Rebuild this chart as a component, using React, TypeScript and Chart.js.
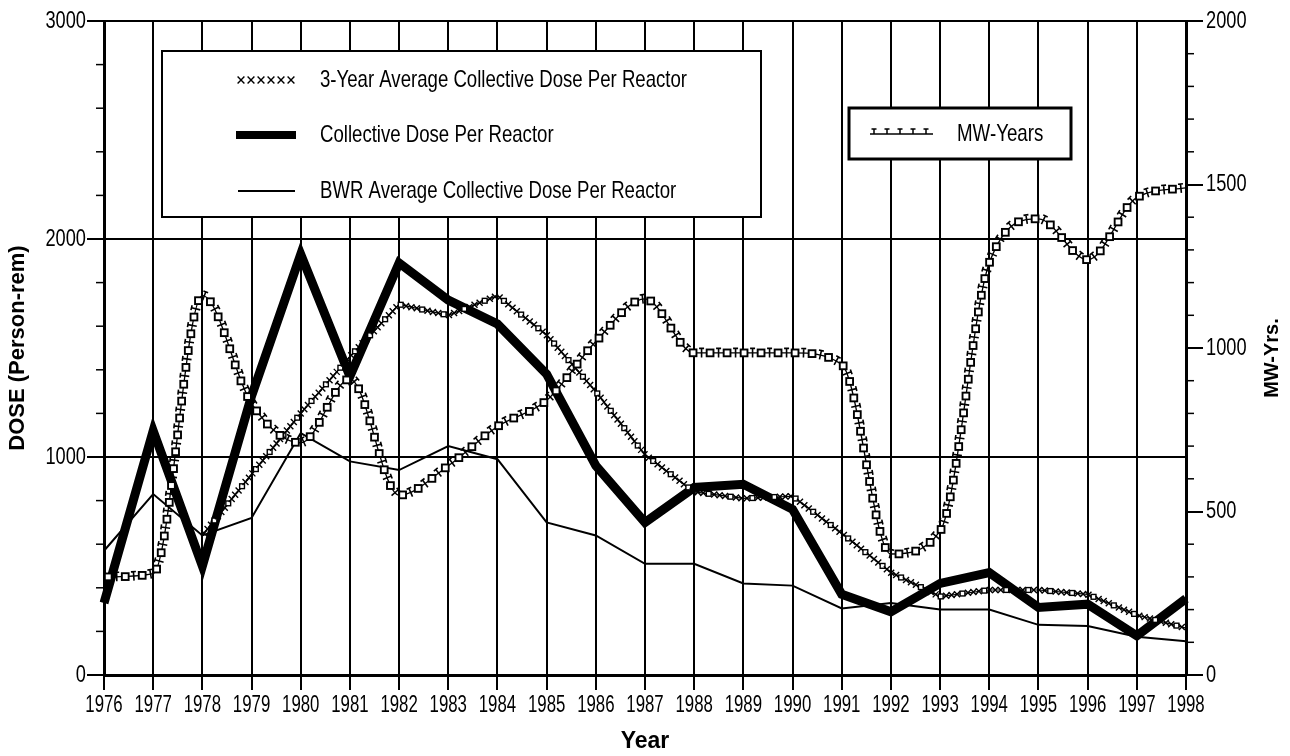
import React, { useEffect, useRef } from "react";
import { Chart, registerables } from "chart.js";

Chart.register(...registerables);

const years = ["1976","1977","1978","1979","1980","1981","1982","1983","1984","1985","1986","1987","1988","1989","1990","1991","1992","1993","1994","1995","1996","1997","1998"];
const threeYearAvg = [null, null, 640, 920, 1200, 1460, 1700, 1650, 1740, 1560, 1300, 1010, 840, 810, 820, 650, 470, 360, 390, 390, 370, 275, 215];
const collectiveDose = [330, 1120, 500, 1280, 1930, 1370, 1890, 1720, 1610, 1380, 960, 700, 860, 875, 760, 370, 290, 420, 470, 310, 325, 180, 350];
const bwrAverage = [570, 830, 640, 720, 1110, 980, 940, 1050, 990, 700, 640, 510, 510, 420, 410, 305, 330, 300, 300, 230, 225, 175, 155];
const mwYears = [300, 310, 1160, 830, 710, 905, 550, 640, 760, 840, 1020, 1150, 985, 985, 985, 950, 370, 440, 1260, 1395, 1270, 1460, 1490];

const leftTicks = [0, 1000, 2000, 3000];
const rightTicks = [0, 500, 1000, 1500, 2000];

const legendLabels = [
  "3-Year Average Collective Dose Per Reactor",
  "Collective Dose Per Reactor",
  "BWR Average Collective Dose Per Reactor",
];
const mwLegendLabel = "MW-Years";
const leftTitle = "DOSE (Person-rem)";
const rightTitle = "MW-Yrs.";
const xTitle = "Year";

const SANS = "'Liberation Sans', Arial, Helvetica, sans-serif";

type P = { x: number; y: number };

function buildRuns(pts: any[]): P[][] {
  const runs: P[][] = [];
  let cur: P[] = [];
  for (let i = 0; i < pts.length; i++) {
    const p = pts[i];
    if (!p || p.skip || isNaN(p.y)) {
      if (cur.length > 1) runs.push(cur);
      cur = [];
      continue;
    }
    if (cur.length === 0) {
      cur.push({ x: p.x, y: p.y });
      continue;
    }
    const q = pts[i - 1];
    if (q && q.cp2x !== undefined && p.cp1x !== undefined) {
      const x0 = q.x, y0 = q.y, x1 = q.cp2x, y1 = q.cp2y, x2 = p.cp1x, y2 = p.cp1y, x3 = p.x, y3 = p.y;
      const N = 40;
      for (let k = 1; k <= N; k++) {
        const t = k / N, u = 1 - t;
        cur.push({
          x: u * u * u * x0 + 3 * u * u * t * x1 + 3 * u * t * t * x2 + t * t * t * x3,
          y: u * u * u * y0 + 3 * u * u * t * y1 + 3 * u * t * t * y2 + t * t * t * y3,
        });
      }
    } else {
      cur.push({ x: p.x, y: p.y });
    }
  }
  if (cur.length > 1) runs.push(cur);
  return runs;
}

function walk(run: P[], step: number, cb: (x: number, y: number, ang: number, n: number) => void) {
  let remaining = step / 2;
  let n = 0;
  for (let i = 1; i < run.length; i++) {
    const a = run[i - 1], b = run[i];
    const dx = b.x - a.x, dy = b.y - a.y;
    const len = Math.hypot(dx, dy);
    if (len === 0) continue;
    let pos = 0;
    while (pos + remaining <= len) {
      pos += remaining;
      const t = pos / len;
      cb(a.x + dx * t, a.y + dy * t, Math.atan2(dy, dx), n++);
      remaining = step;
    }
    remaining -= len - pos;
  }
}

function drawX(ctx: CanvasRenderingContext2D, x: number, y: number, s: number) {
  ctx.beginPath();
  ctx.moveTo(x - s, y - s);
  ctx.lineTo(x + s, y + s);
  ctx.moveTo(x - s, y + s);
  ctx.lineTo(x + s, y - s);
  ctx.stroke();
}

function drawSquare(ctx: CanvasRenderingContext2D, x: number, y: number, s: number) {
  ctx.fillStyle = "#fff";
  ctx.fillRect(x - s, y - s, 2 * s, 2 * s);
  ctx.strokeRect(x - s, y - s, 2 * s, 2 * s);
}

function drawTick(ctx: CanvasRenderingContext2D, x: number, y: number, ang: number) {
  const nx = -Math.sin(ang), ny = Math.cos(ang);
  const tx = Math.cos(ang), ty = Math.sin(ang);
  ctx.beginPath();
  ctx.moveTo(x - nx * 4.5, y - ny * 4.5);
  ctx.lineTo(x + nx * 4.5, y + ny * 4.5);
  ctx.moveTo(x - nx * 4.5 - tx * 2.5, y - ny * 4.5 - ty * 2.5);
  ctx.lineTo(x - nx * 4.5 + tx * 2.5, y - ny * 4.5 + ty * 2.5);
  ctx.stroke();
}

function narrowText(ctx: CanvasRenderingContext2D, text: string, x: number, y: number, size: number, sx: number, align: CanvasTextAlign) {
  ctx.save();
  ctx.translate(x, y);
  ctx.scale(sx, 1);
  ctx.font = `${size}px ${SANS}`;
  ctx.fillStyle = "#000";
  ctx.textAlign = align;
  ctx.textBaseline = "middle";
  ctx.fillText(text, 0, 0);
  ctx.restore();
}

const decoPlugin = {
  id: "deco",
  afterDatasetsDraw(chart: any) {
    const ctx: CanvasRenderingContext2D = chart.ctx;
    ctx.save();
    ctx.strokeStyle = "#000";
    ctx.lineCap = "butt";
    chart.data.datasets.forEach((ds: any, i: number) => {
      if (!ds.deco) return;
      const meta = chart.getDatasetMeta(i);
      const runs = buildRuns(meta.data);
      runs.forEach((run) => {
        if (ds.deco === "x") {
          walk(run, 5.5, (x, y, ang, n) => {
            ctx.lineWidth = 1.4;
            if (n % 4 === 3) drawSquare(ctx, x, y, 2.4);
            else drawX(ctx, x, y, 3);
          });
        } else if (ds.deco === "mw") {
          walk(run, 8.5, (x, y, ang, n) => {
            if (n % 2 === 0) {
              ctx.lineWidth = 1.9;
              drawSquare(ctx, x, y, 3.4);
            } else {
              ctx.lineWidth = 1.6;
              drawTick(ctx, x, y, ang);
            }
          });
        }
      });
    });
    ctx.restore();
  },
  afterDraw(chart: any) {
    const ctx: CanvasRenderingContext2D = chart.ctx;
    const xs = chart.scales.x;
    const ya = chart.scales.y;
    const yb = chart.scales.y1;
    const area = chart.chartArea;
    ctx.save();
    ctx.strokeStyle = "#000";
    ctx.lineWidth = 1.5;
    for (let v = 200; v < 3000; v += 200) {
      if (v % 1000 === 0) continue;
      const py = ya.getPixelForValue(v);
      ctx.beginPath();
      ctx.moveTo(area.left - 8, py);
      ctx.lineTo(area.left, py);
      ctx.stroke();
    }
    for (let v = 100; v < 2000; v += 100) {
      if (v % 500 === 0) continue;
      const py = yb.getPixelForValue(v);
      ctx.beginPath();
      ctx.moveTo(area.right, py);
      ctx.lineTo(area.right + 8, py);
      ctx.stroke();
    }

    // tick labels
    years.forEach((y, i) => narrowText(ctx, y, xs.getPixelForTick(i), 705, 24, 0.7, "center"));
    leftTicks.forEach((v) => narrowText(ctx, String(v), area.left - 18, ya.getPixelForValue(v), 24, 0.76, "right"));
    rightTicks.forEach((v) => narrowText(ctx, String(v), area.right + 20, yb.getPixelForValue(v), 24, 0.76, "left"));

    // right axis title
    ctx.save();
    ctx.translate(1272, 358);
    ctx.rotate(-Math.PI / 2);
    ctx.fillStyle = "#000";
    ctx.font = `bold 20px ${SANS}`;
    ctx.textAlign = "center";
    ctx.textBaseline = "middle";
    ctx.fillText(rightTitle, 0, 0);
    ctx.restore();

    // legend box 1
    ctx.fillStyle = "#fff";
    ctx.fillRect(162, 51, 599, 166);
    ctx.lineWidth = 2;
    ctx.strokeRect(162, 51, 599, 166);
    const rows = [80, 135, 191];
    ctx.lineWidth = 1.4;
    for (let k = 0; k < 6; k++) drawX(ctx, 241 + k * 10, rows[0], 3.4);
    ctx.lineWidth = 8;
    ctx.beginPath();
    ctx.moveTo(236, rows[1]);
    ctx.lineTo(296, rows[1]);
    ctx.stroke();
    ctx.lineWidth = 2;
    ctx.beginPath();
    ctx.moveTo(238, rows[2]);
    ctx.lineTo(295, rows[2]);
    ctx.stroke();
    legendLabels.forEach((t, k) => narrowText(ctx, t, 320, rows[k], 24, 0.775, "left"));

    // legend box 2
    ctx.fillStyle = "#fff";
    ctx.fillRect(849, 108, 222, 51);
    ctx.lineWidth = 3;
    ctx.strokeRect(849, 108, 222, 51);
    ctx.lineWidth = 1.5;
    ctx.beginPath();
    ctx.moveTo(870, 134);
    ctx.lineTo(933, 134);
    ctx.stroke();
    for (let k = 0; k < 5; k++) {
      const x = 874 + k * 13;
      ctx.beginPath();
      ctx.moveTo(x, 129);
      ctx.lineTo(x, 134);
      ctx.moveTo(x - 2.5, 129);
      ctx.lineTo(x + 2.5, 129);
      ctx.stroke();
    }
    narrowText(ctx, mwLegendLabel, 957, 134, 24, 0.78, "left");
    ctx.restore();
  },
};

export default function App() {
  const ref = useRef<HTMLCanvasElement | null>(null);
  useEffect(() => {
    if (!ref.current) return;
    const chart = new Chart(ref.current, {
      type: "line",
      data: {
        labels: years,
        datasets: [
          {
            label: legendLabels[0],
            data: threeYearAvg,
            borderColor: "#000",
            borderWidth: 1.2,
            pointRadius: 0,
            yAxisID: "y",
            tension: 0,
            deco: "x",
          } as any,
          {
            label: legendLabels[1],
            data: collectiveDose,
            borderColor: "#000",
            borderWidth: 9,
            borderJoinStyle: "miter",
            pointRadius: 0,
            yAxisID: "y",
            tension: 0,
          },
          {
            label: legendLabels[2],
            data: bwrAverage,
            borderColor: "#000",
            borderWidth: 2,
            pointRadius: 0,
            yAxisID: "y",
            tension: 0,
          },
          {
            label: mwLegendLabel,
            data: mwYears,
            borderColor: "#000",
            borderWidth: 1.3,
            pointRadius: 0,
            yAxisID: "y1",
            cubicInterpolationMode: "monotone",
            deco: "mw",
          } as any,
        ],
      },
      options: {
        responsive: false,
        animation: false,
        layout: { padding: { top: 21, left: 0, right: 0, bottom: 0 } },
        plugins: { legend: { display: false }, tooltip: { enabled: false } },
        scales: {
          x: {
            type: "category",
            offset: false,
            grid: { color: "#000", lineWidth: 2, tickLength: 15, drawTicks: true },
            border: { color: "#000", width: 3 },
            ticks: { display: false, autoSkip: false, maxRotation: 0 },
            title: { display: true, text: xTitle, color: "#000", font: { family: SANS, size: 23, weight: "bold" }, padding: { top: 0, bottom: 1 } },
            afterFit: (s: any) => { s.height = 81; },
          },
          y: {
            position: "left",
            min: 0,
            max: 3000,
            ticks: { display: false, stepSize: 1000 },
            grid: { color: "#000", lineWidth: 2, tickLength: 17 },
            border: { color: "#000", width: 3 },
            title: { display: true, text: leftTitle, color: "#000", font: { family: SANS, size: 22, weight: "bold" }, padding: { top: 5, bottom: 0 } },
            afterFit: (s: any) => { s.width = 104; },
          },
          y1: {
            position: "right",
            min: 0,
            max: 2000,
            ticks: { display: false, stepSize: 500 },
            grid: { drawOnChartArea: false, color: "#000", lineWidth: 2, tickLength: 17 },
            border: { color: "#000", width: 3 },
            afterFit: (s: any) => { s.width = 104; },
          },
        },
      } as any,
      plugins: [decoPlugin],
    });
    return () => chart.destroy();
  }, []);
  return (
    <div style={{ position: "absolute", left: 0, top: 0, width: 1290, height: 756, background: "#fff" }}>
      <canvas ref={ref} width={1290} height={756} style={{ display: "block", width: 1290, height: 756 }} />
    </div>
  );
}
